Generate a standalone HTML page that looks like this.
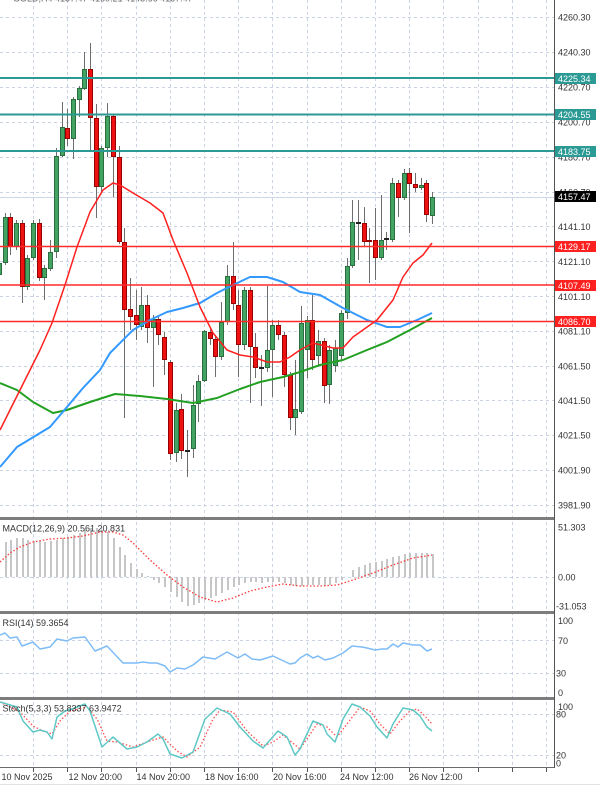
<!DOCTYPE html>
<html><head><meta charset="utf-8"><style>
html,body{margin:0;padding:0;background:#fff;}
svg{display:block;}
text{font-family:"Liberation Sans",Arial,sans-serif;font-size:9px;}
</style></head><body>
<svg width="600" height="786" viewBox="0 0 600 786" xmlns="http://www.w3.org/2000/svg">
<rect width="600" height="786" fill="#fff"/>
<!-- grid -->
<g stroke="#c9d3e3" stroke-width="1" stroke-dasharray="3,3" fill="none">
<path d="M33.5 0V767M67.5 0V767M101.5 0V767M136.5 0V767M170.5 0V767M204.5 0V767M238.5 0V767M272.5 0V767M307.5 0V767M341.5 0V767M375.5 0V767M409.5 0V767M443.5 0V767M478.5 0V767M512.5 0V767M546.5 0V767"/>
<path d="M0 17.5H554M0 52.5H554M0 87.5H554M0 122.5H554M0 157.5H554M0 192.5H554M0 226.5H554M0 261.5H554M0 296.5H554M0 331.5H554M0 366.5H554M0 400.5H554M0 435.5H554M0 470.5H554M0 505.5H554"/>
<path d="M0 577.5H554M0 640.5H554M0 673.5H554M0 714.5H554M0 755.5H554"/>
</g>
<!-- bid line -->
<path d="M0 197.5H554" stroke="#cdd6e6" stroke-width="1"/>
<!-- header -->
<text x="13" y="1.5" fill="#666">GOLD,H4  4157.47 4160.21 4145.66 4157.47</text>
<!-- candles -->
<g shape-rendering="crispEdges">
<path stroke="#6e6e6e" stroke-width="1" fill="none" d="M-0.5 258V280 M5.5 213V265 M10.5 213V255 M16.5 220V250 M22.5 220V303 M27.5 255V290 M33.5 220V260 M39.5 219V281 M44.5 265V300 M50.5 240V271 M56.5 148V258 M62.5 102V157 M67.5 109V146 M73.5 97V159 M79.5 86V117 M84.5 52V90 M90.5 43V150 M96.5 104V218 M101.5 146V192 M107.5 103V157 M113.5 114V197 M119.5 146V244 M124.5 228V418 M130.5 278V330 M136.5 290V340 M141.5 287V330 M147.5 295V343 M153.5 315V387 M158.5 315V345 M164.5 332V375 M170.5 360V460 M176.5 403V462 M181.5 394V459 M187.5 430V477 M193.5 385V458 M198.5 375V422 M204.5 330V382 M210.5 329V345 M215.5 335V377 M221.5 302V360 M227.5 265V325 M233.5 242V310 M238.5 290V377 M244.5 287V350 M250.5 287V403 M255.5 333V378 M261.5 355V406 M267.5 286V372 M272.5 320V397 M278.5 320V340 M284.5 332V387 M290.5 372V430 M295.5 360V435 M301.5 306V414 M307.5 316V378 M312.5 295V370 M318.5 330V365 M324.5 338V403 M329.5 345V404 M335.5 340V372 M341.5 310V360 M347.5 258V319 M352.5 200V268 M358.5 200V260 M364.5 207V247 M369.5 228V283 M375.5 208V280 M381.5 195V260 M386.5 232V250 M392.5 178V242 M398.5 180V217 M404.5 169V200 M409.5 168V233 M415.5 173V192 M421.5 178V190 M426.5 180V222 M432.5 192V224"/>
<g fill="#43a363" stroke="#2a6e40" stroke-width="1">
<rect x="-2.5" y="263.5" width="4" height="11"/>
<rect x="3.5" y="217.5" width="4" height="45"/>
<rect x="14.5" y="223.5" width="4" height="23"/>
<rect x="25.5" y="258.5" width="4" height="28"/>
<rect x="31.5" y="223.5" width="4" height="34"/>
<rect x="42.5" y="268.5" width="4" height="9"/>
<rect x="48.5" y="252.5" width="4" height="16"/>
<rect x="54.5" y="156.5" width="4" height="95"/>
<rect x="60.5" y="127.5" width="4" height="28"/>
<rect x="71.5" y="99.5" width="4" height="39"/>
<rect x="77.5" y="88.5" width="4" height="11"/>
<rect x="82.5" y="69.5" width="4" height="19"/>
<rect x="99.5" y="148.5" width="4" height="38"/>
<rect x="105.5" y="116.5" width="4" height="31"/>
<rect x="139.5" y="305.5" width="4" height="21"/>
<rect x="151.5" y="319.5" width="4" height="8"/>
<rect x="174.5" y="410.5" width="4" height="42"/>
<rect x="191.5" y="405.5" width="4" height="43"/>
<rect x="196.5" y="381.5" width="4" height="22"/>
<rect x="202.5" y="331.5" width="4" height="49"/>
<rect x="219.5" y="322.5" width="4" height="34"/>
<rect x="225.5" y="276.5" width="4" height="45"/>
<rect x="242.5" y="290.5" width="4" height="54"/>
<rect x="265.5" y="350.5" width="4" height="17"/>
<rect x="270.5" y="325.5" width="4" height="24"/>
<rect x="293.5" y="409.5" width="4" height="8"/>
<rect x="299.5" y="323.5" width="4" height="88"/>
<rect x="305.5" y="320.5" width="4" height="29"/>
<rect x="316.5" y="341.5" width="4" height="14"/>
<rect x="327.5" y="350.5" width="4" height="34"/>
<rect x="333.5" y="348.5" width="4" height="17"/>
<rect x="339.5" y="313.5" width="4" height="42"/>
<rect x="345.5" y="266.5" width="4" height="46"/>
<rect x="350.5" y="222.5" width="4" height="43"/>
<rect x="379.5" y="240.5" width="4" height="17"/>
<rect x="390.5" y="183.5" width="4" height="56"/>
<rect x="402.5" y="173.5" width="4" height="24"/>
<rect x="419.5" y="185.5" width="4" height="2"/>
<rect x="430.5" y="197.5" width="4" height="18"/>
</g>
<g fill="#ee1111" stroke="#990000" stroke-width="1">
<rect x="8.5" y="217.5" width="4" height="29"/>
<rect x="20.5" y="223.5" width="4" height="63"/>
<rect x="37.5" y="223.5" width="4" height="54"/>
<rect x="65.5" y="128.5" width="4" height="10"/>
<rect x="88.5" y="69.5" width="4" height="48"/>
<rect x="94.5" y="118.5" width="4" height="68"/>
<rect x="111.5" y="116.5" width="4" height="40"/>
<rect x="117.5" y="157.5" width="4" height="84"/>
<rect x="122.5" y="242.5" width="4" height="67"/>
<rect x="128.5" y="309.5" width="4" height="7"/>
<rect x="134.5" y="315.5" width="4" height="9"/>
<rect x="145.5" y="305.5" width="4" height="22"/>
<rect x="156.5" y="319.5" width="4" height="15"/>
<rect x="162.5" y="337.5" width="4" height="22"/>
<rect x="168.5" y="362.5" width="4" height="91"/>
<rect x="179.5" y="409.5" width="4" height="41"/>
<rect x="208.5" y="332.5" width="4" height="6"/>
<rect x="213.5" y="339.5" width="4" height="17"/>
<rect x="231.5" y="276.5" width="4" height="27"/>
<rect x="236.5" y="305.5" width="4" height="39"/>
<rect x="248.5" y="290.5" width="4" height="56"/>
<rect x="253.5" y="347.5" width="4" height="20"/>
<rect x="276.5" y="325.5" width="4" height="9"/>
<rect x="282.5" y="335.5" width="4" height="39"/>
<rect x="288.5" y="375.5" width="4" height="42"/>
<rect x="310.5" y="320.5" width="4" height="39"/>
<rect x="322.5" y="341.5" width="4" height="44"/>
<rect x="362.5" y="223.5" width="4" height="18"/>
<rect x="367.5" y="240.5" width="4" height="1"/>
<rect x="373.5" y="240.5" width="4" height="17"/>
<rect x="396.5" y="183.5" width="4" height="14"/>
<rect x="407.5" y="173.5" width="4" height="10"/>
<rect x="413.5" y="184.5" width="4" height="3"/>
<rect x="424.5" y="183.5" width="4" height="31"/>
</g>
<path stroke="#222" stroke-width="2" d="M185 451H190M259 368H264M356 223H361M384 239H389"/>
</g>
<!-- moving averages -->
<g fill="none" stroke-linejoin="round">
<polyline stroke="#22a022" stroke-width="2" points="0,383 17,390 33,402 53,413 67,410 90,402 115,394 140,396 167,399 193,403 217,398 240,389 260,382 283,377 300,372 320,365 343,360 367,350 387,342 410,330 432,318"/>
<polyline stroke="#3399ff" stroke-width="2" points="0,467 17,447 50,427 67,407 83,388 100,370 110,353 133,330 150,320 167,312 183,308 200,303 217,293 233,285 250,277 267,277 283,282 300,292 320,295 343,308 367,320 387,327 400,327 417,320 432,313"/>
<polyline stroke="#ff2020" stroke-width="1.5" points="0,430 10,410 20,390 30,370 40,350 52,323 65,285 77,247 90,212 103,190 113,183 120,185 133,193 150,203 163,213 173,240 187,273 200,307 213,333 227,350 240,355 253,357 267,362 280,362 290,357 300,350 313,343 333,348 343,348 353,337 377,320 393,300 403,277 413,263 423,255 432,243"/>
</g>
<!-- level lines -->
<g stroke="#2b9a94" stroke-width="2">
<path d="M0 78H555M0 114.5H555M0 151H555"/>
</g>
<g stroke="#ff2a2a" stroke-width="1.5">
<path d="M0 246.5H555M0 285H555M0 321.5H555"/>
</g>
<!-- MACD -->
<g stroke="#c6c6c6" stroke-width="2" fill="none" shape-rendering="crispEdges">
<path d="M6 577V542M11 577V540M17 577V538M23 577V538M28 577V540M34 577V541M40 577V541M45 577V542M51 577V541M57 577V540M63 577V538M68 577V537M74 577V535M80 577V533M85 577V530M91 577V528M97 577V528M102 577V530M108 577V532M114 577V538M120 577V547M125 577V555M131 577V563M137 577V569M142 577V573M148 577V576M154 577V580M159 577V583M165 577V587M171 577V592M177 577V597M182 577V602M188 577V606M194 577V605M199 577V603M205 577V600M211 577V598M216 577V596M222 577V593M228 577V590M234 577V587M239 577V585M245 577V583M251 577V582M256 577V582M262 577V583M268 577V582M273 577V582M279 577V582M285 577V583M291 577V585M296 577V586M302 577V586M308 577V585M313 577V585M319 577V585M325 577V586M330 577V585M336 577V583M342 577V580M353 577V570M359 577V567M365 577V565M370 577V563M376 577V562M382 577V561M387 577V559M393 577V557M399 577V556M405 577V554M410 577V553M416 577V553M422 577V553M427 577V553M433 577V554"/>
</g>
<polyline fill="none" stroke="#ff3a3a" stroke-width="1.3" stroke-dasharray="1.5,2" points="0,562 10,553 20,547 33,542 50,539 67,538 83,536 100,532 113,532 123,535 133,543 150,560 167,575 183,587 200,597 217,602 233,598 250,591 267,587 283,584 300,586 320,586 337,585 353,580 373,573 393,565 413,558 432,555"/>
<!-- RSI -->
<polyline fill="none" stroke="#7fbcf5" stroke-width="1.5" stroke-linejoin="round" points="0,635 5,633 10,638 17,637 22,646 33,642 40,649 50,647 57,639 67,641 73,638 85,637 95,651 107,646 123,663 137,663 143,662 150,663 157,663 165,666 170,672 177,668 185,669 193,665 203,657 215,659 227,652 238,658 245,654 252,659 260,660 273,656 290,664 295,663 300,658 307,654 313,658 318,656 325,660 333,658 343,653 352,646 362,647 367,648 375,650 382,649 387,649 393,644 398,647 403,643 413,645 420,645 427,651 432,649"/>
<!-- Stoch -->
<polyline fill="none" stroke="#ff4d4d" stroke-width="1.3" stroke-dasharray="1.5,2" points="0,702 20,712 33,726 43,731 52,734 60,721 70,711 87,707 97,719 107,741 117,742 133,747 150,741 163,737 177,751 187,757 200,747 213,719 220,710 233,712 247,731 263,746 273,742 283,735 300,749 317,724 327,727 337,737 347,724 360,707 370,711 380,724 390,734 400,721 410,711 417,709 423,714 432,724"/>
<polyline fill="none" stroke="#5ec8c6" stroke-width="1.5" stroke-linejoin="round" points="0,702 17,707 23,721 33,732 40,730 47,732 52,739 57,717 65,711 72,709 85,704 90,711 102,747 113,737 127,749 137,747 147,742 158,734 163,739 170,754 182,758 193,752 205,719 217,708 230,714 240,727 253,741 263,748 278,731 287,737 295,755 300,749 313,721 323,725 327,734 335,742 343,719 352,704 360,707 370,716 377,727 387,738 393,724 403,708 413,710 420,716 427,727 432,731"/>
<!-- separators / axes -->
<g shape-rendering="crispEdges">
<rect x="0" y="517" width="555" height="3" fill="#7d7d7d"/>
<rect x="0" y="611" width="555" height="3" fill="#7d7d7d"/>
<rect x="0" y="697" width="555" height="3" fill="#7d7d7d"/>
<rect x="0" y="767" width="555" height="1" fill="#6a6a6a"/>
<rect x="554" y="0" width="1" height="768" fill="#555"/>
<rect x="0" y="784" width="600" height="1" fill="#e2e2e2"/>
<path stroke="#555" stroke-width="1" d="M33.5 768V772M67.5 768V772M101.5 768V772M136.5 768V772M170.5 768V772M204.5 768V772M238.5 768V772M272.5 768V772M307.5 768V772M341.5 768V772M375.5 768V772M409.5 768V772M443.5 768V772M478.5 768V772M512.5 768V772M546.5 768V772"/>
</g>
<!-- price labels -->
<g fill="#333">
<text x="558" y="20.5">4260.30</text>
<text x="558" y="55.5">4240.30</text>
<text x="558" y="90.5">4220.70</text>
<text x="558" y="125.5">4200.70</text>
<text x="558" y="160.5">4180.70</text>
<text x="558" y="195.5">4160.70</text>
<text x="558" y="230">4141.10</text>
<text x="558" y="265">4121.10</text>
<text x="558" y="300">4101.10</text>
<text x="558" y="334.5">4081.10</text>
<text x="558" y="369.5">4061.50</text>
<text x="558" y="404">4041.50</text>
<text x="558" y="438.5">4021.50</text>
<text x="558" y="473.5">4001.90</text>
<text x="558" y="508.5">3981.90</text>
<text x="558" y="530.5">51.303</text>
<text x="558" y="580.5">0.00</text>
<text x="556" y="609.5">-31.053</text>
<text x="558" y="624">100</text>
<text x="558" y="644">70</text>
<text x="556" y="676.5">30</text>
<text x="558" y="696">0</text>
<text x="558" y="710">100</text>
<text x="556" y="717.5">80</text>
<text x="556" y="758.5">20</text>
<text x="556" y="766.5">0</text>
</g>
<!-- level boxes -->
<g shape-rendering="crispEdges">
<rect x="555" y="73" width="41" height="11" fill="#2b9a94"/>
<rect x="555" y="109" width="41" height="11" fill="#2b9a94"/>
<rect x="555" y="146" width="41" height="11" fill="#2b9a94"/>
<rect x="555" y="191" width="41" height="11" fill="#000"/>
<rect x="555" y="241" width="41" height="11" fill="#ff2020"/>
<rect x="555" y="280" width="41" height="11" fill="#ff2020"/>
<rect x="555" y="316" width="41" height="11" fill="#ff2020"/>
</g>
<g fill="#fff">
<text x="558" y="82">4225.34</text>
<text x="558" y="118">4204.55</text>
<text x="558" y="155">4183.75</text>
<text x="558" y="200">4157.47</text>
<text x="558" y="250">4129.17</text>
<text x="558" y="289">4107.49</text>
<text x="558" y="325">4086.70</text>
</g>
<!-- indicator titles -->
<g fill="#333">
<text x="2.5" y="531.5">MACD(12,26,9) 20.561 20.831</text>
<text x="2.5" y="626">RSI(14) 59.3654</text>
<text x="2.5" y="711.5">Stoch(5,3,3) 53.8337 63.9472</text>
</g>
<!-- time labels -->
<g fill="#333">
<text x="1.5" y="780">10 Nov 2025</text>
<text x="68.5" y="780">12 Nov 20:00</text>
<text x="136.5" y="780">14 Nov 20:00</text>
<text x="205" y="780">18 Nov 16:00</text>
<text x="273" y="780">20 Nov 16:00</text>
<text x="340" y="780">24 Nov 12:00</text>
<text x="409" y="780">26 Nov 12:00</text>
</g>
</svg>
</body></html>
